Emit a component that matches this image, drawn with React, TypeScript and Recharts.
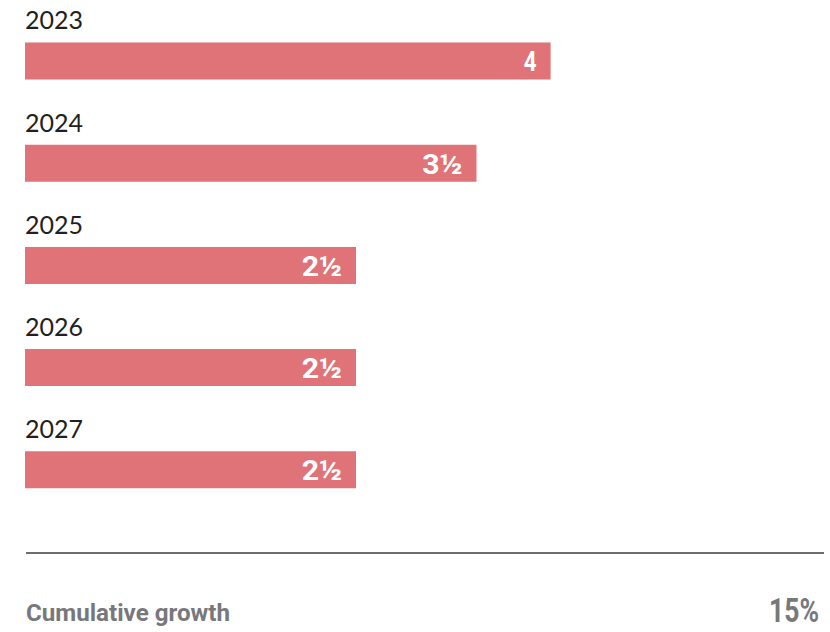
import React from "react";
import { BarChart, Bar, XAxis, YAxis, LabelList } from "recharts";

const years = ["2023", "2024", "2025", "2026", "2027"];
const growth = [3.97, 3.41, 2.5, 2.5, 2.5];
const growthLabels = ["4", "3½", "2½", "2½", "2½"];
const footerLabel = "Cumulative growth";
const footerValue = "15%";

const data = years.map((y, i) => ({ year: y, value: growth[i], label: growthLabels[i] }));

const BAR_COLOR = "#e07377";
const COND_FONT = "Roboto, 'Noto Sans', sans-serif";

const YearLabel = (props: any) => {
  const { x, y, value } = props;
  return (
    <text x={x} y={y - 13} fill="#231f20" fontFamily="Lato, 'Noto Sans', sans-serif" fontSize={25}>
      {value}
    </text>
  );
};

const ValueLabel = (props: any) => {
  const { x, y, width, height, value } = props;
  const tx = x + width - 14;
  const ty = y + height / 2 + 10.5;
  const sx = String(value).length > 1 ? 1.08 : 0.8;
  return (
    <text
      transform={`translate(${tx},${ty}) scale(${sx},1)`}
      x={0}
      y={0}
      fill="#ffffff"
      textAnchor="end"
      fontFamily={COND_FONT}
      fontWeight="bold"
      fontSize={28}
    >
      {value}
    </text>
  );
};

export default function App() {
  return (
    <div style={{ position: "absolute", left: 0, top: 0, width: 830, height: 632 }}>
      <BarChart
        width={830}
        height={632}
        data={data}
        layout="vertical"
        margin={{ top: 9.4, right: 10.6, bottom: 111.4, left: 25 }}
      >
        <XAxis type="number" domain={[0, 6]} hide />
        <YAxis type="category" dataKey="year" hide />
        <Bar dataKey="value" fill={BAR_COLOR} barSize={37} isAnimationActive={false}>
          <LabelList dataKey="year" content={YearLabel} />
          <LabelList dataKey="label" content={ValueLabel} />
        </Bar>
      </BarChart>
      <svg width={830} height={632} style={{ position: "absolute", left: 0, top: 0, pointerEvents: "none" }}>
        <line x1={26} x2={824} y1={553} y2={553} stroke="#6d6e71" strokeWidth={2} />
        <text
          x={26}
          y={621}
          fill="#77787b"
          fontFamily={COND_FONT}
          fontWeight="bold"
          fontSize={24}
          textLength={204}
          lengthAdjust="spacingAndGlyphs"
        >
          {footerLabel}
        </text>
        <text
          x={769}
          y={622}
          fill="#77787b"
          fontFamily={COND_FONT}
          fontWeight="bold"
          fontSize={33}
          textLength={50}
          lengthAdjust="spacingAndGlyphs"
        >
          {footerValue}
        </text>
      </svg>
    </div>
  );
}
